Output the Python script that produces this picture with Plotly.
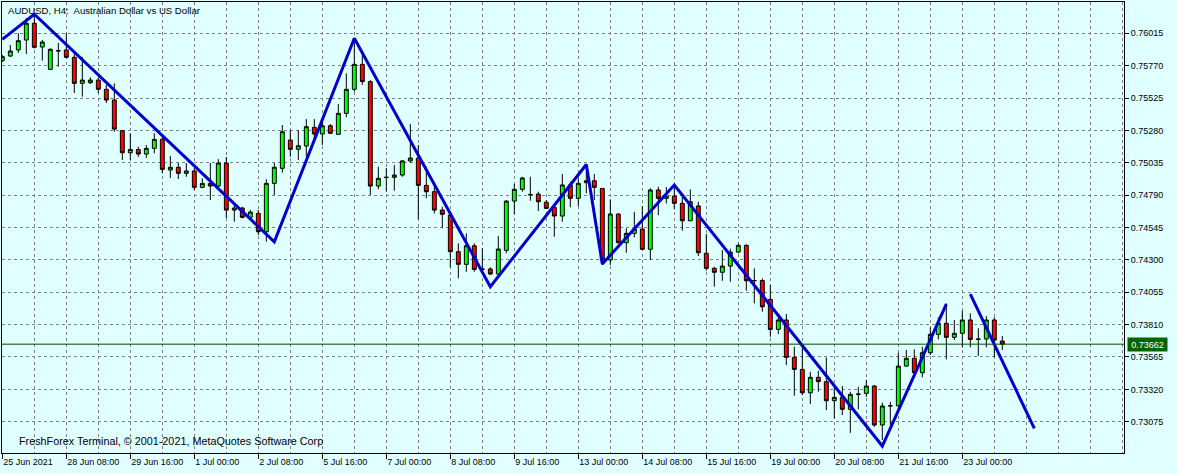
import plotly.graph_objects as go

# ---- data ----
opens = [0.75808, 0.75843, 0.75889, 0.75964, 0.76091, 0.75911, 0.75742, 0.75884, 0.75889, 0.75833,
         0.75636, 0.75641, 0.75661, 0.75591, 0.75510, 0.75278, 0.75111, 0.75135, 0.75101, 0.75144,
         0.75212, 0.74980, 0.75001, 0.74955, 0.74973, 0.74849, 0.74879, 0.74859, 0.75033, 0.74677,
         0.74692, 0.74622, 0.74652, 0.74513, 0.74879, 0.74993, 0.75207, 0.75137, 0.75162, 0.75303,
         0.75253, 0.75315, 0.75250, 0.75409, 0.75591, 0.75780, 0.75649, 0.74859, 0.74923, 0.74925,
         0.74942, 0.75049, 0.75071, 0.74864, 0.74816, 0.74677, 0.74639, 0.74362, 0.74266, 0.74407,
         0.74228, 0.74231, 0.74193, 0.74372, 0.74745, 0.74834, 0.74795, 0.74798, 0.74736, 0.74698,
         0.74632, 0.74867, 0.74766, 0.74884, 0.74899, 0.74841, 0.74299, 0.74647, 0.74430, 0.74501,
         0.74533, 0.74380, 0.74829, 0.74766, 0.74783, 0.74728, 0.74596, 0.74708, 0.74350, 0.74236,
         0.74206, 0.74253, 0.74359, 0.74410, 0.74142, 0.74144, 0.74001, 0.73774, 0.73845, 0.73562,
         0.73471, 0.73294, 0.73411, 0.73378, 0.73234, 0.73259, 0.73169, 0.73282, 0.73290, 0.73345,
         0.73050, 0.73194, 0.73196, 0.73496, 0.73555, 0.73446, 0.73597, 0.73736, 0.73820, 0.73714,
         0.73744, 0.73845, 0.73698, 0.73701, 0.73845, 0.73686]
highs = [0.75851, 0.75926, 0.76017, 0.76131, 0.76153, 0.75964, 0.75901, 0.75942, 0.76015, 0.75866,
         0.75836, 0.75682, 0.75682, 0.75624, 0.75636, 0.75283, 0.75258, 0.75157, 0.75169, 0.75258,
         0.75237, 0.75086, 0.75033, 0.75033, 0.74995, 0.74917, 0.75033, 0.75063, 0.75079, 0.74715,
         0.74702, 0.74677, 0.74677, 0.74910, 0.75033, 0.75321, 0.75283, 0.75283, 0.75366, 0.75366,
         0.75359, 0.75328, 0.75480, 0.75712, 0.75969, 0.75851, 0.75661, 0.75005, 0.74995, 0.75018,
         0.75056, 0.75328, 0.75169, 0.75005, 0.74867, 0.74702, 0.74647, 0.74425, 0.74501, 0.74425,
         0.74387, 0.74244, 0.74480, 0.74753, 0.74874, 0.74929, 0.74929, 0.74816, 0.74753, 0.74715,
         0.74950, 0.74892, 0.74917, 0.74980, 0.74950, 0.74844, 0.74758, 0.74651, 0.74539, 0.74664,
         0.74708, 0.74842, 0.74854, 0.74851, 0.74849, 0.74778, 0.74834, 0.74740, 0.74496, 0.74248,
         0.74375, 0.74384, 0.74425, 0.74418, 0.74236, 0.74160, 0.74109, 0.73875, 0.73890, 0.73642,
         0.73638, 0.73453, 0.73461, 0.73562, 0.73340, 0.73345, 0.73302, 0.73340, 0.73391, 0.73353,
         0.73219, 0.73226, 0.73597, 0.73618, 0.73623, 0.73642, 0.73789, 0.73865, 0.73971, 0.73845,
         0.73915, 0.73895, 0.73782, 0.73875, 0.73865, 0.73724]
lows = [0.75798, 0.75836, 0.75866, 0.75858, 0.75901, 0.75808, 0.75737, 0.75762, 0.75826, 0.75563,
        0.75535, 0.75631, 0.75563, 0.75487, 0.75270, 0.75056, 0.75056, 0.75079, 0.75071, 0.75107,
        0.74955, 0.74920, 0.74912, 0.74929, 0.74829, 0.74842, 0.74753, 0.74829, 0.74617, 0.74589,
        0.74614, 0.74614, 0.74488, 0.74437, 0.74791, 0.74960, 0.75081, 0.75056, 0.75081, 0.75207,
        0.75169, 0.75253, 0.75245, 0.75379, 0.75573, 0.75624, 0.74791, 0.74834, 0.74816, 0.74823,
        0.74929, 0.75035, 0.74607, 0.74766, 0.74652, 0.74539, 0.74244, 0.74160, 0.74210, 0.74210,
        0.74210, 0.74185, 0.74185, 0.74350, 0.74647, 0.74816, 0.74748, 0.74670, 0.74685, 0.74475,
        0.74589, 0.74698, 0.74708, 0.74804, 0.74753, 0.74261, 0.74261, 0.74425, 0.74354, 0.74471,
        0.74375, 0.74299, 0.74639, 0.74728, 0.74683, 0.74521, 0.74594, 0.74329, 0.74218, 0.74097,
        0.74142, 0.74134, 0.74350, 0.74066, 0.73971, 0.73908, 0.73718, 0.73739, 0.73504, 0.73272,
        0.73277, 0.73209, 0.73302, 0.73163, 0.73100, 0.73126, 0.72991, 0.73169, 0.73264, 0.73037,
        0.72936, 0.73050, 0.73188, 0.73491, 0.73441, 0.73411, 0.73580, 0.73698, 0.73547, 0.73693,
        0.73638, 0.73638, 0.73572, 0.73638, 0.73562, 0.73618]
closes = [0.75838, 0.75881, 0.75959, 0.76091, 0.75909, 0.75949, 0.75894, 0.75882, 0.75833, 0.75636,
          0.75661, 0.75661, 0.75591, 0.75510, 0.75290, 0.75111, 0.75135, 0.75101, 0.75144, 0.75212,
          0.74985, 0.75001, 0.74955, 0.74973, 0.74849, 0.74879, 0.74859, 0.75033, 0.74677, 0.74692,
          0.74622, 0.74662, 0.74513, 0.74879, 0.75001, 0.75270, 0.75137, 0.75164, 0.75308, 0.75253,
          0.75315, 0.75258, 0.75409, 0.75591, 0.75780, 0.75649, 0.74859, 0.74917, 0.74925, 0.74942,
          0.75049, 0.75071, 0.74864, 0.74816, 0.74677, 0.74645, 0.74362, 0.74266, 0.74407, 0.74228,
          0.74231, 0.74193, 0.74382, 0.74745, 0.74834, 0.74920, 0.74793, 0.74740, 0.74690, 0.74632,
          0.74867, 0.74766, 0.74879, 0.74899, 0.74849, 0.74299, 0.74647, 0.74430, 0.74501, 0.74533,
          0.74380, 0.74829, 0.74766, 0.74783, 0.74728, 0.74596, 0.74740, 0.74354, 0.74236, 0.74206,
          0.74253, 0.74359, 0.74410, 0.74142, 0.74144, 0.73945, 0.73774, 0.73845, 0.73562, 0.73471,
          0.73294, 0.73411, 0.73378, 0.73234, 0.73259, 0.73169, 0.73282, 0.73284, 0.73345, 0.73050,
          0.73194, 0.73196, 0.73496, 0.73555, 0.73446, 0.73597, 0.73736, 0.73820, 0.73714, 0.73744,
          0.73845, 0.73698, 0.73701, 0.73845, 0.73693, 0.73662]
bars = list(range(len(opens)))

time_tick_bars = [0, 8, 16, 24, 32, 40, 48, 56, 64, 72, 80, 88, 96, 104, 112, 120]
time_tick_labels = ["25 Jun 2021", "28 Jun 08:00", "29 Jun 16:00", "1 Jul 00:00", "2 Jul 08:00",
                    "5 Jul 16:00", "7 Jul 00:00", "8 Jul 08:00", "9 Jul 16:00", "13 Jul 00:00",
                    "14 Jul 08:00", "15 Jul 16:00", "19 Jul 00:00", "20 Jul 08:00", "21 Jul 16:00",
                    "23 Jul 00:00"]
price_ticks = [0.76015, 0.75770, 0.75525, 0.75280, 0.75035, 0.74790, 0.74545,
               0.74300, 0.74055, 0.73810, 0.73565, 0.73320, 0.73075]
price_tick_labels = ["%.5f" % v for v in price_ticks]

zigzag_bars = [0, 4, 34, 44, 61, 73, 75, 84, 110, 118]
zigzag_prices = [0.75969, 0.76159, 0.74437, 0.75977, 0.74097, 0.75022, 0.74269, 0.74867, 0.72891, 0.73966]
trend_bars = [121, 129]
trend_prices = [0.74041, 0.73025]

last_price = 0.73662
bar_range = [-0.04, 140.21]
price_range = [0.728383, 0.762519]

# ---- styles ----
BG = "#E0FFFF"
GRID = "#7F7F7F"
FONT = "Liberation Sans, Arial, sans-serif"
BLUE = "#0000CD"
PRICE_GREEN = "#006400"

fig = go.Figure()

fig.add_trace(go.Candlestick(
    x=bars, open=opens, high=highs, low=lows, close=closes,
    increasing=dict(line=dict(color="black", width=1), fillcolor="#00FF00"),
    decreasing=dict(line=dict(color="black", width=1), fillcolor="#FF0000"),
    whiskerwidth=0, showlegend=False, hoverinfo="skip",
))

fig.add_trace(go.Scatter(
    x=zigzag_bars + [None] + trend_bars,
    y=zigzag_prices + [None] + trend_prices,
    mode="lines", line=dict(color=BLUE, width=3),
    showlegend=False, hoverinfo="skip", connectgaps=False,
))

fig.add_shape(type="line", xref="paper", x0=0, x1=1, yref="y", y0=last_price, y1=last_price,
              line=dict(color="#004d00", width=1), layer="above")

fig.add_annotation(xref="paper", x=1.0027, xanchor="left", yref="y", y=last_price, yanchor="middle",
                   text="%.5f" % last_price, showarrow=False,
                   font=dict(family=FONT, size=9, color="white"),
                   bgcolor=PRICE_GREEN, borderpad=1, width=37, height=11)

fig.add_annotation(xref="paper", x=0.0036, xanchor="left", yref="paper", y=0.982, yanchor="middle",
                   text="AUDUSD, H4:  Australian Dollar vs US Dollar", showarrow=False,
                   font=dict(family=FONT, size=9.6, color="black"))

fig.add_annotation(xref="paper", x=0.0134, xanchor="left", yref="paper", y=0.0266, yanchor="middle",
                   text="FreshForex Terminal, © 2001-2021, MetaQuotes Software Corp", showarrow=False,
                   font=dict(family=FONT, size=10.8, color="black"))

fig.update_layout(
    width=1177, height=474,
    margin=dict(l=2, r=53, t=2, b=21),
    paper_bgcolor=BG, plot_bgcolor=BG,
    font=dict(family=FONT, size=9, color="black"),
    showlegend=False,
    xaxis=dict(
        range=bar_range, rangeslider=dict(visible=False),
        tickmode="array", tickvals=time_tick_bars, ticktext=time_tick_labels,
        ticks="outside", ticklen=5, tickcolor="black", ticklabelposition="outside right",
        showgrid=True, gridcolor=GRID, griddash="3px,3px", gridwidth=1,
        minor=dict(tickmode="linear", tick0=0, dtick=4, showgrid=True, gridcolor=GRID,
                   griddash="3px,3px", gridwidth=1, ticks=""),
        showline=True, linecolor="black", linewidth=1, mirror=True,
        zeroline=False, fixedrange=True,
    ),
    yaxis=dict(
        range=price_range, side="right",
        tickmode="array", tickvals=price_ticks, ticktext=price_tick_labels,
        ticks="outside", ticklen=4, tickcolor="black",
        showgrid=True, gridcolor=GRID, griddash="3px,3px", gridwidth=1,
        showline=True, linecolor="black", linewidth=1, mirror=True,
        zeroline=False, fixedrange=True,
    ),
)

fig.write_html(
    "out.html",
    config={"displayModeBar": False, "staticPlot": True},
    post_script="document.body.style.margin='0';document.body.style.background='%s';" % BG,
)
